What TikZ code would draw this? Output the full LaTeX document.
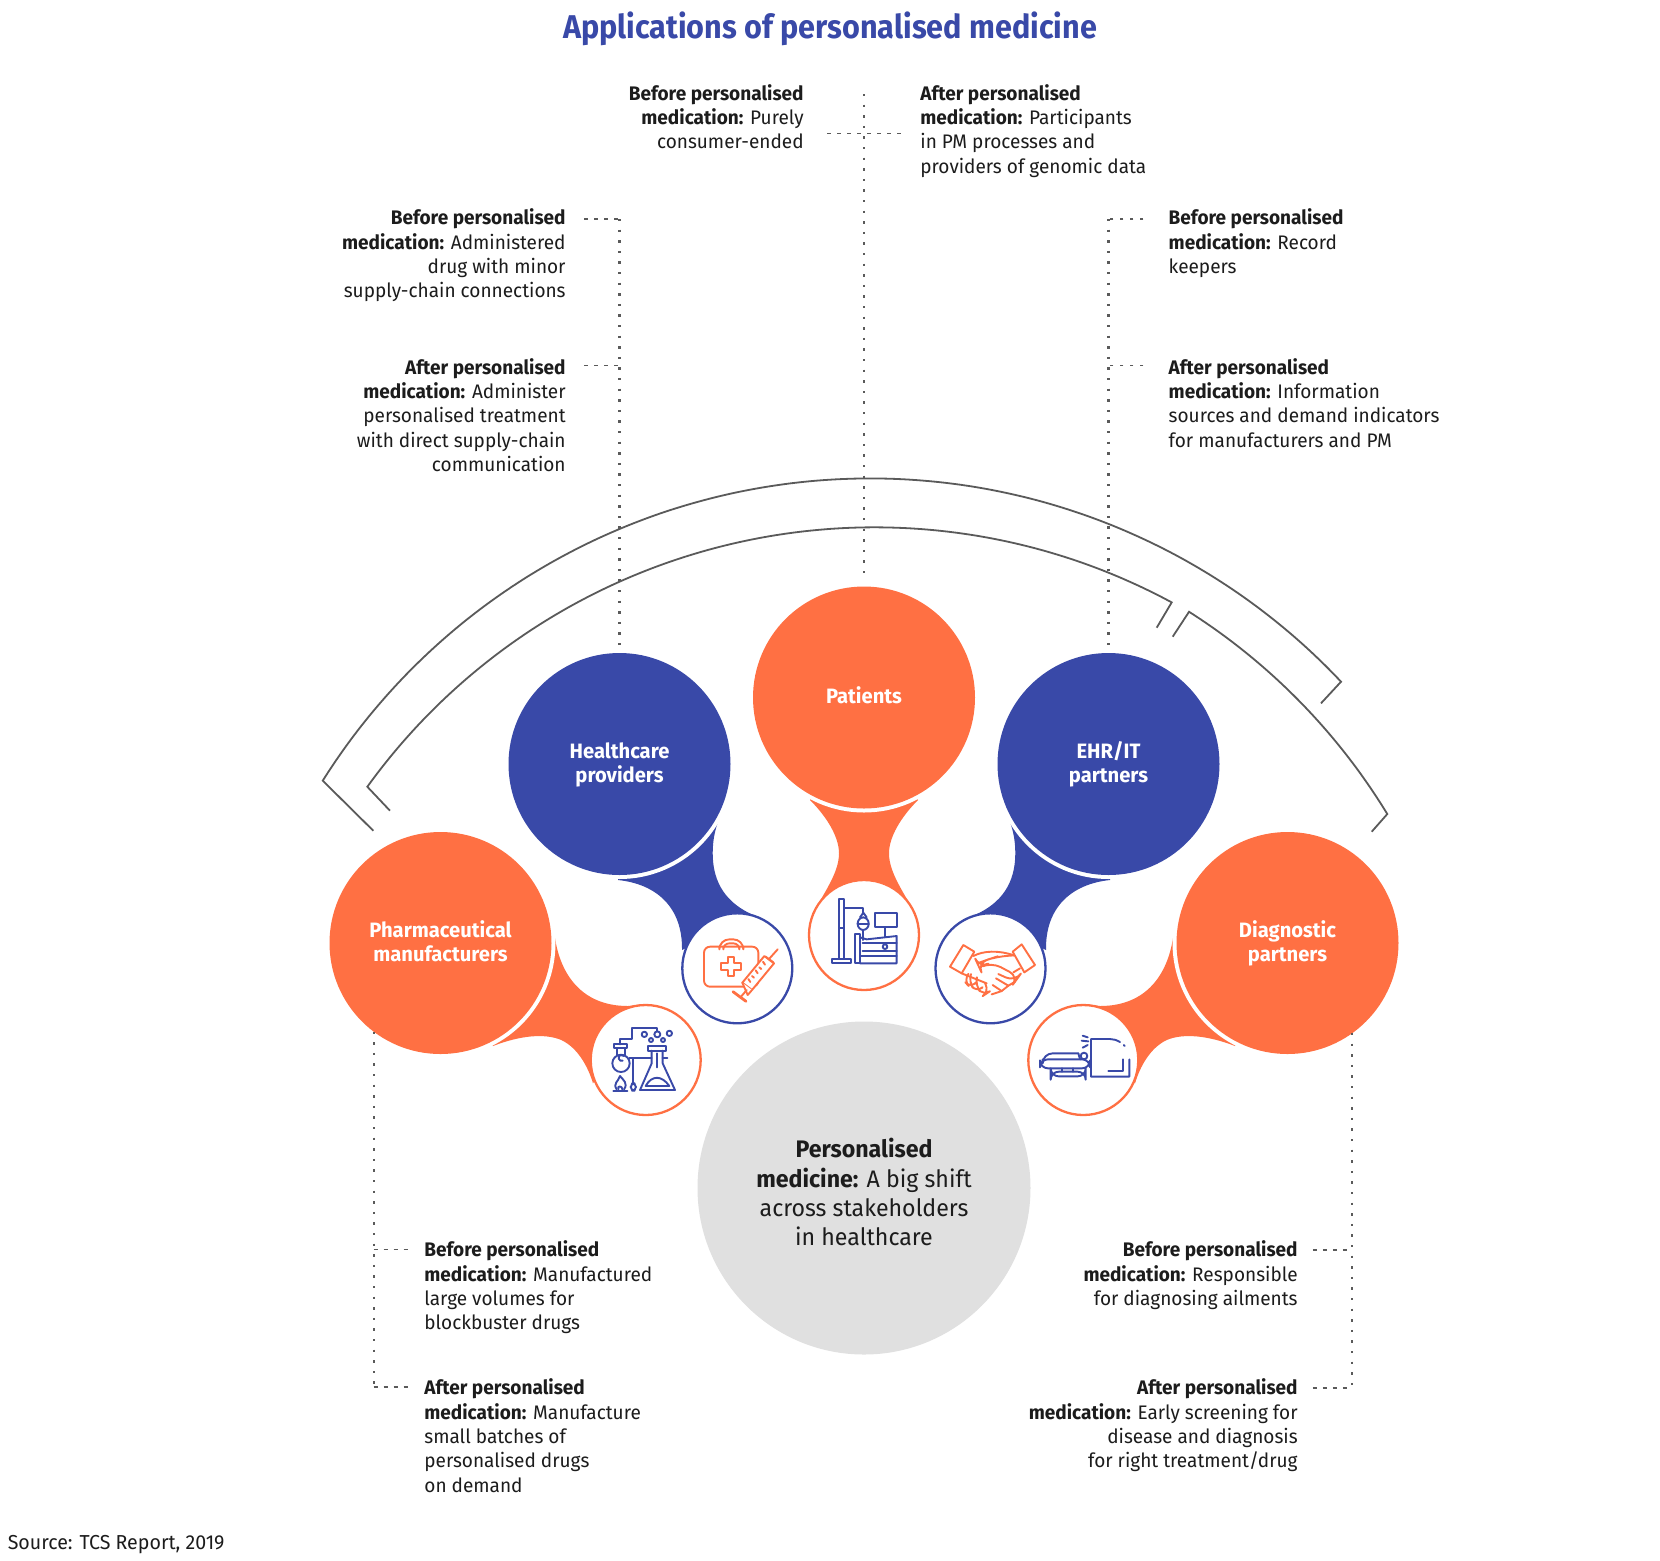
\documentclass[tikz,border=0pt]{standalone}
\usepackage{fontspec}
\setmainfont[FakeStretch=0.97]{Fira Sans}
\newfontfamily\titlefont[FakeStretch=0.93]{Fira Sans}
\definecolor{cor}{HTML}{FF7043}
\definecolor{cbl}{HTML}{3949A8}
\definecolor{cgr}{HTML}{E0E0E0}
\definecolor{cln}{HTML}{5A5A5A}
\definecolor{ctx}{HTML}{1C1C1C}
\newcommand\fl{\rule{0pt}{7.5pt}}
\newcommand\ctop{\rule{0pt}{9pt}}
\newcommand\cbot{\rule[-2.8pt]{0pt}{2.8pt}}
\tikzset{
  bigc/.style={circle,minimum size=111pt,inner sep=0pt,outer sep=0pt,text=white,align=center,font=\fontsize{10.4}{12.15}\selectfont\bfseries},
  iconc/.style={circle,minimum size=55pt,inner sep=0pt,outer sep=0pt,fill=white,line width=1.15pt},
  lblr/.style={anchor=north east,align=right,inner sep=0pt,text=ctx,font=\fontsize{9.8}{12.15}\selectfont},
  lbll/.style={anchor=north west,align=left,inner sep=0pt,text=ctx,font=\fontsize{9.8}{12.15}\selectfont},
  arcl/.style={draw=cln,line width=0.9pt},
  dotv/.style={draw=cln,line width=1.2pt,dash pattern=on 1.2pt off 4.1pt},
  doth/.style={draw=cln,line width=0.8pt,dash pattern=on 1.9pt off 3.1pt},
  ico/.style={line width=0.95pt,line join=round,line cap=round},
}
\begin{document}
\begin{tikzpicture}[x=0.5pt,y=-0.5pt]
\useasboundingbox (0,0) rectangle (1660,1560);
\fill[white] (0,0) rectangle (1660,1560);
% title
\node[inner sep=0pt,text=cbl,font=\titlefont\fontsize{16.45}{20}\selectfont\bfseries] (title) at (830,29) {Applications of personalised medicine};
% arcs
\draw[arcl,line join=miter] (373.3,830.7) -- plot[domain=147.8:43.3,samples=90,smooth] ({870.2+647*cos(\x)},{1125.4-647*sin(\x)}) -- (1321,703.3);
\draw[arcl,line join=miter] (390,810.7) -- plot[domain=144.17:61.65,samples=80,smooth] ({874.6+625.7*cos(\x)},{1153-625.7*sin(\x)}) -- (1156.7,627.7);
\draw[arcl,line join=miter] (1172.7,636.7) -- plot[domain=57.5:31.35,samples=40,smooth] ({852.7+626*cos(\x)},{1139.7-626*sin(\x)}) -- (1371.7,831.7);
% blobs
\fill[cbl] (618,880) .. controls (656,884) and (682.7,906.7) .. (682,950) -- (753.3,915) .. controls (726.7,903.3) and (712.7,883.3) .. (712.7,853.3) .. controls (712.7,840) and (715,830) .. (718.7,820) -- (619.5,764) -- cycle;
\fill[cbl] (1110,880) .. controls (1072,884) and (1045.3,906.7) .. (1046,950) -- (974.7,915) .. controls (1001.3,903.3) and (1015.3,883.3) .. (1015.3,853.3) .. controls (1015.3,840) and (1013,830) .. (1009.3,820) -- (1108.5,764) -- cycle;
\fill[cor] (810,800) .. controls (826.7,816.7) and (839,836.7) .. (839,853.3) .. controls (839,873.3) and (823.3,893.3) .. (813.3,913.3) -- (914.7,913.3) .. controls (904.7,893.3) and (889,873.3) .. (889,853.3) .. controls (889,836.7) and (901.3,816.7) .. (918,800) -- (864,697.5) -- cycle;
\fill[cor] (1173,938) .. controls (1167.5,974) and (1146.7,1006) .. (1100,1006) -- (1083,1004) -- (1135,1083.3) .. controls (1140,1066.7) and (1150,1048) .. (1166.7,1040) .. controls (1183.3,1033) and (1208,1035.5) .. (1235,1046) -- (1287.5,943) -- cycle;
\fill[cor] (555,938) .. controls (560.5,974) and (581.3,1006) .. (628,1006) -- (645,1004) -- (593,1083.3) .. controls (588,1066.7) and (578,1048) .. (561.3,1040) .. controls (544.7,1033) and (520,1035.5) .. (493,1046) -- (440.5,943) -- cycle;
% white rings
\foreach \p in {(619.5,764),(864,697.5),(1108.5,764),(440.5,943),(1287.5,943)} \fill[white] \p circle (115);
% big circles
\node[bigc,fill=cor] (pat) at (864,697.5) {\ctop Patients\cbot};
\node[bigc,fill=cbl] (hc) at (619.5,764) {\ctop Healthcare\\providers\cbot};
\node[bigc,fill=cbl] (ehr) at (1108.5,764) {\ctop EHR/IT\\partners\cbot};
\node[bigc,fill=cor] (pha) at (440.5,943) {\ctop Pharmaceutical\\manufacturers\cbot};
\node[bigc,fill=cor] (dia) at (1287.5,943) {\ctop Diagnostic\\partners\cbot};
% centre
\node[circle,minimum size=166.5pt,inner sep=0pt,fill=cgr] (ctr) at (864,1188) {};
\node[inner sep=0pt,text=ctx,align=center,font=\fontsize{11.95}{14.55}\selectfont] (ctrt) at (864,1192) {\textbf{Personalised}\\\textbf{medicine:} A big shift\\across stakeholders\\in healthcare};
% icon circles
\node[iconc,draw=cbl] (i1) at (737.3,968.3) {};
\node[iconc,draw=cor] (i2) at (864,935) {};
\node[iconc,draw=cor] (i3) at (645.7,1060) {};
\node[iconc,draw=cbl] (i4) at (990.5,968.3) {};
\node[iconc,draw=cor] (i5) at (1083.3,1060) {};
% icons drawn in the coordinates of crop A
\begin{scope}[shift={(580,800)},x=0.16667pt,y=-0.16667pt,ico]
 % medical kit
 \draw[cor,rounded corners=5pt] (418,440) -- (418,418) -- (490,418) -- (490,440);
 \draw[cor,rounded corners=3pt] (430,440) -- (430,430) -- (478,430) -- (478,440);
 \draw[cor,rounded corners=3pt] (372,440) rectangle (535,560);
 \draw[cor] (443,472) -- (463,472) -- (463,490) -- (482,490) -- (482,510) -- (463,510) -- (463,528) -- (443,528) -- (443,510) -- (424,510) -- (424,490) -- (443,490) -- cycle;
 \draw[cor,fill=white] (487,548) -- (553,468) -- (582,490) -- (516,570) -- cycle;
 \draw[cor,fill=white] (487,548) -- (503,585) -- (516,570);
 \draw[cor,line width=1.4pt] (459,575) -- (498,604);
 \draw[cor] (500,570) -- (483,590);
 \draw[cor] (566,478) -- (593,448);
 \draw[cor] (557,470) -- (580,487);
 \foreach \a/\b in {0/12,1/8,2/12,3/8,4/12}{\draw[cor] ({511+\a*11},{546-\a*13}) -- ++(-6,-\b+3);}
 % IV stand and bed
 \draw[cbl] (778,298) rectangle (792,478);
 \draw[cbl] (757,478) rectangle (812,490);
 \draw[cbl] (778,385) -- (792,385);
 \draw[cbl] (792,325) -- (850,325) -- (850,340);
 \draw[cbl] (840,352) -- (850,338) -- (860,352);
 \draw[cbl,rounded corners=3pt] (833,352) rectangle (866,390);
 \draw[cbl] (833,372) -- (866,372);
 \draw[cbl] (850,390) -- (850,420);
 \draw[cbl] (884,338) rectangle (950,382);
 \draw[cbl] (915,382) -- (915,410);
 \draw[cbl] (825,403) rectangle (840,490);
 \draw[cbl] (840,490) -- (950,490) -- (950,408) -- (860,418) -- (840,412);
 \draw[cbl] (848,430) -- (950,430);
 \draw[cbl] (848,452) -- (950,452);
 \draw[cbl] (840,468) -- (950,468);
 \draw[cbl,fill=white] (915,440) circle (7);
 % flask
 \draw[cbl] (204,738) rectangle (258,752);
 \draw[cbl] (215,752) -- (215,790) -- (180,870) -- (285,870) -- (248,790) -- (248,752);
 \draw[cbl] (197,858) .. controls (215,825) and (245,825) .. (268,858) -- cycle;
 \draw[cbl,dash pattern=on 7pt off 5pt] (232,760) -- (232,825);
 \draw[cbl] (248,775) -- (262,775);
 \foreach \a/\b/\r in {193/703/8,232/703/9,268/700/8,213/720/6,249/720/6}{\draw[cbl] (\a,\b) circle (\r);}
 \draw[cbl] (232,694) -- (232,685) -- (155,685) -- (155,716) -- (120,716) -- (120,733);
 \draw[cbl] (103,733) rectangle (142,745);
 \draw[cbl] (112,745) -- (112,765);
 \draw[cbl] (135,745) -- (135,765);
 \draw[cbl] (123,790) circle (26);
 \draw[cbl] (128,782) arc (70:320:9);
 \draw[cbl] (148,775) -- (215,775);
 \draw[cbl] (160,775) -- (160,850);
 \draw[cbl,rounded corners=2pt] (152,850) rectangle (168,872);
 \draw[cbl] (100,872) -- (142,872);
 \draw[cbl] (110,868) .. controls (98,850) and (115,845) .. (120,828) .. controls (130,840) and (145,850) .. (132,868);
 \draw[cbl] (115,868) .. controls (110,855) and (128,858) .. (127,868);
\end{scope}
\begin{scope}[shift={(920,800)},x=0.16667pt,y=-0.16667pt,ico]
 % handshake
 \draw[cor] (130,435) -- (163,455) -- (125,520) -- (90,500) -- cycle;
 \draw[cor] (305,433) -- (345,495) -- (313,517) -- (278,455) -- cycle;
 \draw[cor] (160,468) .. controls (190,452) and (235,450) .. (282,466);
 \draw[cor] (300,505) -- (280,517);
 \draw[cor,rounded corners=5pt] (282,466) -- (230,470) -- (205,478) -- (172,490) -- (178,503) -- (215,487) -- (296,530) -- (285,545) -- (235,522);
 \draw[cor] (285,545) -- (265,557) -- (228,535);
 \draw[cor] (265,557) -- (245,573) -- (218,555);
 \draw[cor] (245,573) -- (215,583);
 \draw[cor] (125,520) -- (200,550);
 \draw[cor,rounded corners=4pt] (140,528) -- (130,540) -- (152,565) -- (164,552);
 \draw[cor,rounded corners=4pt] (152,525) -- (145,545) -- (170,578) -- (184,565);
 \draw[cor,rounded corners=4pt] (170,535) -- (165,555) -- (190,587) -- (208,575) -- (195,550);
 % scanner
 \draw[cbl,rounded corners=4pt] (360,778) rectangle (510,805);
 \draw[cbl,rounded corners=5pt] (368,778) -- (368,760) -- (475,760);
 \draw[cbl] (475,760) -- (480,778);
 \draw[cbl] (492,768) circle (10);
 \draw[cbl,rounded corners=4pt] (392,815) rectangle (497,829);
 \draw[cbl] (425,805) -- (425,815) (460,805) -- (460,815);
 \draw[cbl] (600,726) .. controls (590,720) and (580,717) .. (570,717) -- (513,717) -- (513,830) -- (628,830) -- (628,778);
 \draw[cbl] (611,735) -- (614,738);
 \draw[cbl] (565,813) -- (610,813) -- (610,778);
 \draw[cbl] (488,707) -- (503,712) (485,722) -- (505,724) (488,743) -- (503,735);
\end{scope}
% labels
\node[lblr] (b1) at (804,84) {\fl\textbf{Before personalised}\\\textbf{medication:} Purely\\consumer-ended};
\node[lbll] (a1) at (920,84) {\fl\textbf{After personalised}\\\textbf{medication:} Participants\\in PM processes and\\providers of genomic data};
\node[lblr] (b2) at (566,208.5) {\fl\textbf{Before personalised}\\\textbf{medication:} Administered\\drug with minor\\supply-chain connections};
\node[lblr] (a2) at (566,358) {\fl\textbf{After personalised}\\\textbf{medication:} Administer\\personalised treatment\\with direct supply-chain\\communication};
\node[lbll] (b3) at (1168.3,208.5) {\fl\textbf{Before personalised}\\\textbf{medication:} Record\\keepers};
\node[lbll] (a3) at (1168.3,358) {\fl\textbf{After personalised}\\\textbf{medication:} Information\\sources and demand indicators\\for manufacturers and PM};
\node[lbll] (b4) at (424,1240.5) {\fl\textbf{Before personalised}\\\textbf{medication:} Manufactured\\large volumes for\\blockbuster drugs};
\node[lbll] (a4) at (424,1378.5) {\fl\textbf{After personalised}\\\textbf{medication:} Manufacture\\small batches of\\personalised drugs\\on demand};
\node[lblr] (b5) at (1298,1240.5) {\fl\textbf{Before personalised}\\\textbf{medication:} Responsible\\for diagnosing ailments};
\node[lblr] (a5) at (1298,1378.5) {\fl\textbf{After personalised}\\\textbf{medication:} Early screening for\\disease and diagnosis\\for right treatment/drug};
\node[anchor=west,inner sep=0pt,text=ctx,font=\fontsize{10.1}{12}\selectfont] (src) at (7.4,1544.5) {Source: TCS Report, 2019};
% dotted leaders
\coordinate (t0) at (864,94);
\coordinate (t1) at (827,133.5);
\coordinate (t2) at (902,133.5);
\draw[dotv] (t0) -- (864,580);
\draw[doth] (t1) -- (t2);
\coordinate (l1) at (584.4,219);
\coordinate (l2) at (584.4,365.3);
\coordinate (lt) at (619.5,219);
\coordinate (lm) at (619.5,365.3);
\draw[dotv] (lt) -- (hc.north);
\draw[doth] (l1) -- (lt);
\draw[doth] (l2) -- (lm);
\coordinate (r1) at (1143.4,219);
\coordinate (r2) at (1143.4,365.3);
\coordinate (rt) at (1108.5,219);
\coordinate (rm) at (1108.5,365.3);
\draw[dotv] (rt) -- (ehr.north);
\draw[doth] (r1) -- (rt);
\draw[doth] (r2) -- (rm);
\coordinate (pa) at (373.7,1031.6);
\coordinate (pb) at (373.7,1249.5);
\coordinate (pc) at (373.7,1387);
\coordinate (pd) at (407.6,1249.5);
\coordinate (pe) at (407.6,1387);
\draw[dotv] (pa) -- (pc);
\draw[doth] (pb) -- (pd);
\draw[doth] (pc) -- (pe);
\coordinate (qa) at (1352,1033);
\coordinate (qb) at (1352,1250);
\coordinate (qc) at (1352,1388);
\coordinate (qd) at (1312.8,1250);
\coordinate (qe) at (1312.8,1388);
\draw[dotv] (qa) -- (qc);
\draw[doth] (qd) -- (qb);
\draw[doth] (qe) -- (qc);
\end{tikzpicture}
\end{document}
